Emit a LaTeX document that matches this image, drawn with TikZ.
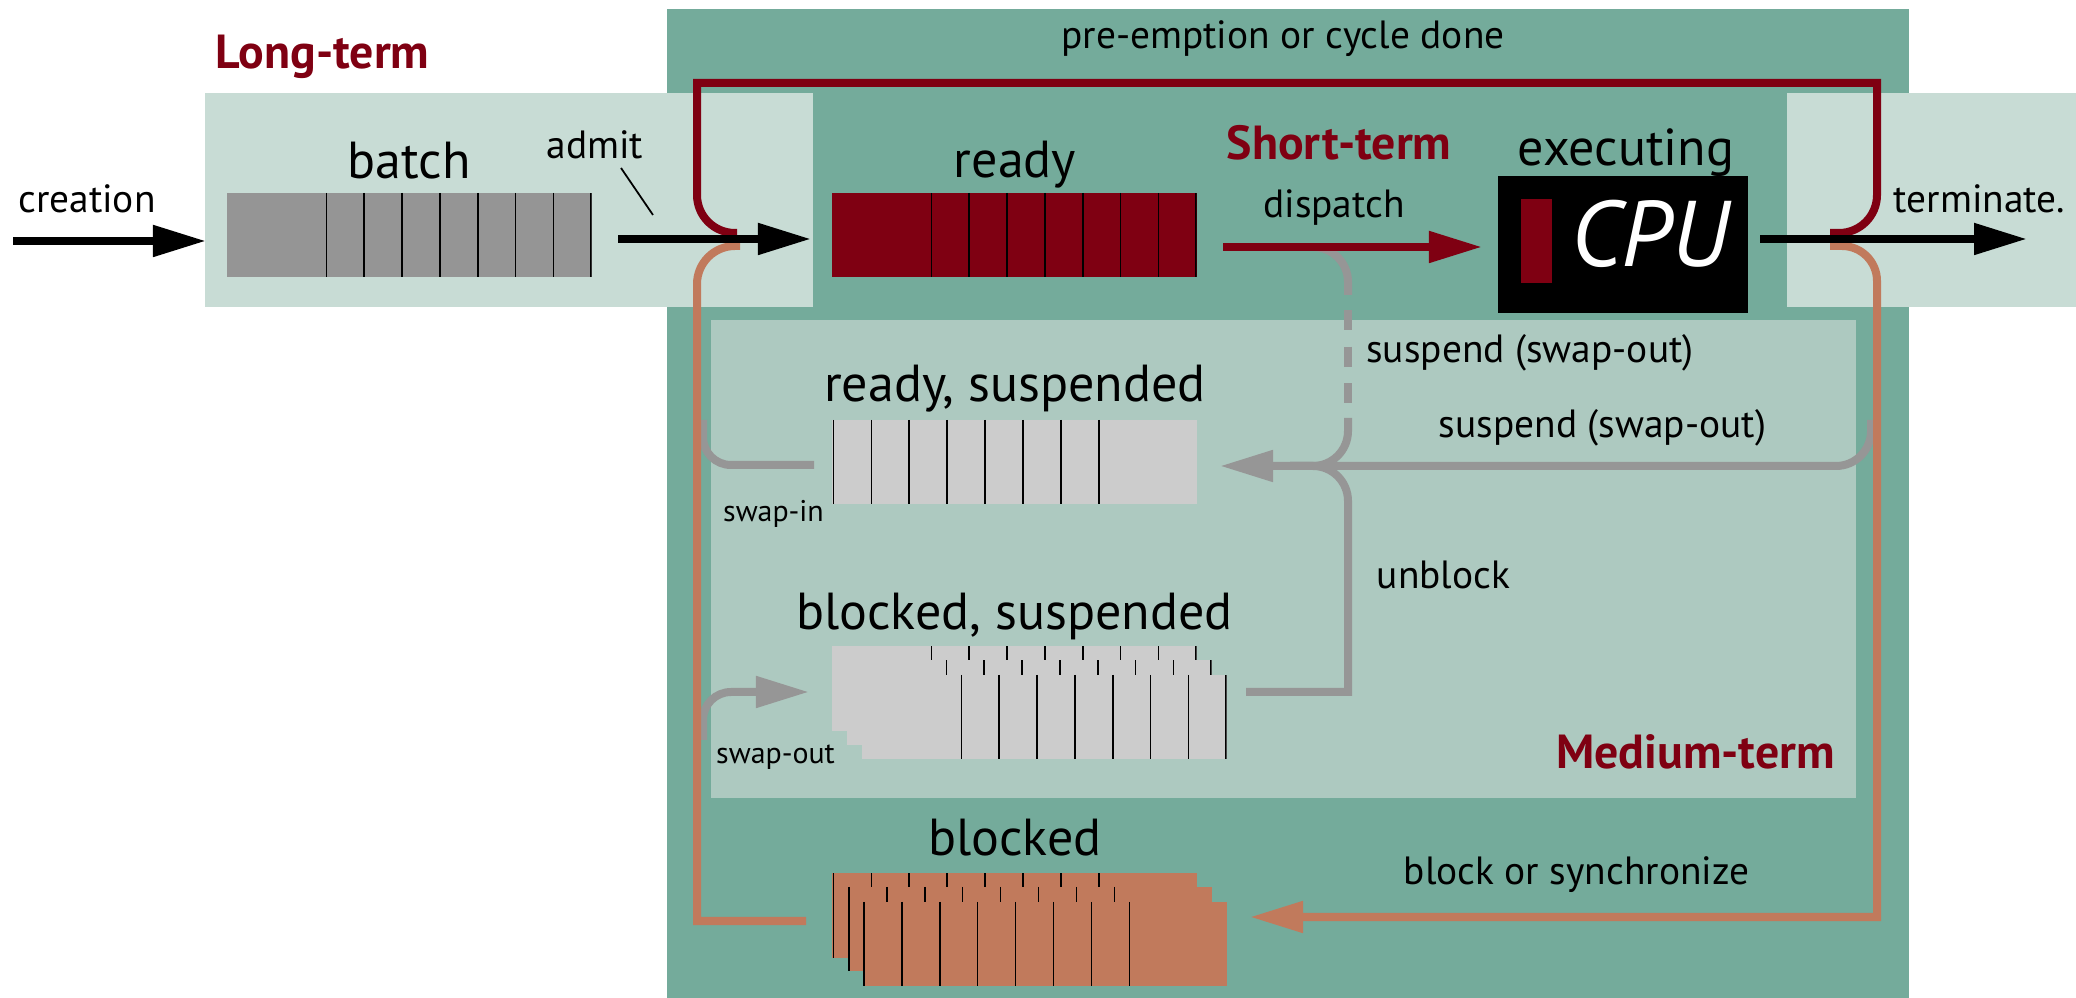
\documentclass[tikz,border=0pt]{standalone}
\usepackage{fontspec}
\setmainfont{PT Sans}
\usetikzlibrary{arrows.meta}
\definecolor{darkteal}{HTML}{74AB9B}
\definecolor{lightstrip}{HTML}{C8DCD5}
\definecolor{medreg}{HTML}{ADC9C0}
\definecolor{dred}{HTML}{7F0012}
\definecolor{orng}{HTML}{C17A5C}
\definecolor{gline}{HTML}{969696}
\definecolor{qgrey}{HTML}{959595}
\definecolor{qlight}{HTML}{CCCCCC}
\tikzset{
  flow/.style={line width=0.08cm},
  kflow/.style={flow, draw=black},
  gflow/.style={flow, draw=gline},
  oflow/.style={flow, draw=orng},
  rflow/.style={flow, draw=dred},
  tip/.style={-{Triangle[length=0.53cm,width=0.30cm]}},
  div/.style={draw=black, line width=0.45pt},
  queue/.style={rectangle, inner sep=0, minimum width=3.64cm, minimum height=0.84cm, draw=none},
  qR/.style={queue, fill=#1, path picture={
      \foreach \i in {0,...,7}{
        \draw[div] ([xshift={0.99cm+\i*0.378cm}]path picture bounding box.north west)
          -- ([xshift={0.99cm+\i*0.378cm}]path picture bounding box.south west);}}},
  qL/.style={queue, fill=#1, path picture={
      \foreach \i in {0,...,7}{
        \draw[div] ([xshift={0.01cm+\i*0.379cm}]path picture bounding box.north west)
          -- ([xshift={0.01cm+\i*0.379cm}]path picture bounding box.south west);}}},
  region/.style={rectangle, inner sep=0, draw=none, anchor=north west},
  lblL/.style={anchor=base, inner sep=0, font=\fontsize{14.8}{17}\selectfont},
  lblS/.style={anchor=base, inner sep=0, font=\fontsize{11.2}{13}\selectfont},
  lblXS/.style={anchor=base, inner sep=0, font=\fontsize{8.5}{10}\selectfont},
  term/.style={anchor=base, inner sep=0, text=dred, font=\fontsize{13.6}{16}\selectfont\bfseries},
}
\begin{document}
\begin{tikzpicture}[x=0.01cm,y=-0.01cm]
\useasboundingbox (0,0) rectangle (2076,998);
% regions
\node[region, fill=darkteal, minimum width=12.42cm, minimum height=9.90cm] (outer) at (666,8) {};
\node[region, fill=lightstrip, minimum width=6.08cm, minimum height=2.14cm] (stripL) at (204,92) {};
\node[region, fill=lightstrip, minimum width=2.90cm, minimum height=2.14cm] (stripR) at (1786,92) {};
\node[region, fill=medreg, minimum width=11.45cm, minimum height=4.78cm] (medium) at (710,319) {};

% queues
\node[qR=qgrey] (batchq) at (409.5,235) {};
\node[qR=dred] (readyq) at (1014.5,235) {};
\node[qL=qlight] (rsq) at (1014.5,462) {};
\node[qR=qlight] (bsq1) at (1014.5,688.5) {};
\node[qR=qlight] (bsq2) at (1029.5,702.5) {};
\node[qR=qlight] (bsq) at (1044.5,717) {};
\node[qL=orng] (bq1) at (1014.5,915.5) {};
\node[qL=orng] (bq2) at (1030,929) {};
\node[qL=orng] (bq) at (1045,944) {};

% CPU
\node[rectangle, fill=black, inner sep=0, minimum width=2.50cm, minimum height=1.37cm] (cpu) at (1623,244.5) {};
\node[rectangle, fill=dred, inner sep=0, minimum width=0.31cm, minimum height=0.84cm] (cpubar) at (1536.5,241) {};
\node[anchor=base, inner sep=0, text=white, font=\fontsize{26.5}{30}\selectfont\itshape] (cputxt) at (1650,267) {CPU};

% labels
\node[term] (lt) at (322.5,69) {Long-term};
\node[term] (st) at (1339,160) {Short-term};
\node[term] (mt) at (1695.5,769) {Medium-term};
\node[lblL] at (409,179) {batch};
\node[lblL] at (1015,178) {ready};
\node[lblL] at (1626,166) {executing};
\node[lblL] at (1015,402) {ready, suspended};
\node[lblL] at (1014.5,630) {blocked, suspended};
\node[lblL] at (1015,856) {blocked};
\node[lblS] at (87,213) {creation};
\node[lblS] (admit) at (595,159) {admit};
\node[lblS] at (1283,49) {pre-emption or cycle done};
\node[lblS] at (1334,218) {dispatch};
\node[lblS] at (1979.5,213) {terminate.};
\node[lblS] at (1530,363) {suspend (swap-out)};
\node[lblS] at (1602.5,438) {suspend (swap-out)};
\node[lblS] at (1443.5,589) {unblock};
\node[lblS] at (1576.5,884) {block or synchronize};
\node[lblXS] at (773.5,522) {swap-in};
\node[lblXS] at (775.5,764) {swap-out};

% coordinates
\coordinate (cS) at (13,241);
\coordinate (cE) at (206,241);
\coordinate (aS) at (618,239);
\coordinate (aE) at (811,239);
\coordinate (dS) at (1223,247);
\coordinate (dE) at (1482,247);
\coordinate (tS) at (1760,239);
\coordinate (tE) at (2027,239);
\coordinate (rsIn) at (1220,466);
\coordinate (bsIn) at (809,692);
\coordinate (bIn) at (1250,917);

% grey connectors
\draw[gflow, rounded corners=0.35cm] (1310,247) -| (1348,295);
\draw[gflow, dash pattern=on 0.2cm off 0.165cm] (1348,310) -- (1348,404);
\draw[gflow, rounded corners=0.35cm] (1348,418) |- (1290,466);
\draw[gflow, tip, rounded corners=0.35cm] (1871,420) |- (rsIn);
\draw[gflow] (1246,692) -| (1348,600) [rounded corners=0.35cm] |- (1290,466);
\draw[gflow, rounded corners=0.28cm] (814,465) -| (703,420);
\draw[gflow, tip, rounded corners=0.28cm] (703,740) |- (bsIn);

% orange connectors
\draw[oflow] (806,921) -| (697,400) [rounded corners=0.38cm] |- (740,246);
\draw[oflow, tip] (1830,246) [rounded corners=0.35cm] -| (1877,400) [sharp corners] |- (bIn);

% red connector (pre-emption)
\draw[rflow] (1830,233) [rounded corners=0.38cm] -| (1877,150) [sharp corners] |- (697,83) -- (697,150) [rounded corners=0.38cm] |- (737,233);

% main arrows
\draw[kflow, tip] (cS) -- (cE);
\draw[kflow, tip] (aS) -- (aE);
\draw[kflow, tip] (tS) -- (tE);
\draw[rflow, tip] (dS) -- (dE);
\draw[line width=0.5pt] (621,168) -- (653,215);
\end{tikzpicture}
\end{document}
